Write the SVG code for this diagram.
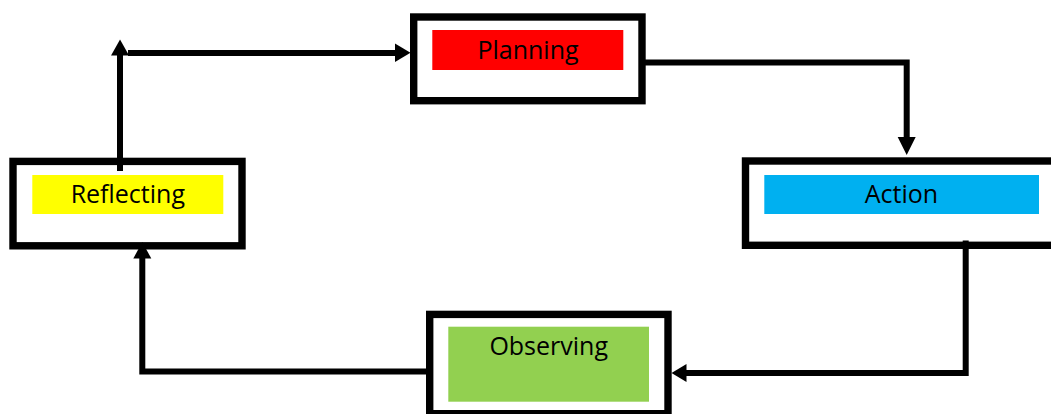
<svg xmlns="http://www.w3.org/2000/svg" width="1051" height="414" viewBox="0 0 1051 414">
  <style>
    .frame { fill: #ffffff; stroke: #000000; stroke-width: 7.4; }
    .label { font-family: "Open Sans", "Liberation Sans", sans-serif; font-size: 25px; fill: #000000; text-anchor: middle; }
    .conn { fill: none; stroke: #000000; stroke-width: 6; stroke-linejoin: miter; }
    .head { fill: #000000; stroke: none; }
  </style>
  <rect width="1051" height="414" fill="#ffffff"/>

  <g id="planning">
    <rect class="frame" x="413.7" y="17" width="228.3" height="83.7"/>
    <rect x="432.3" y="30" width="191" height="40" fill="#FF0000"/>
    <text class="label" x="528" y="59.3">Planning</text>
  </g>

  <g id="action">
    <rect class="frame" x="745.5" y="161" width="330" height="84.3"/>
    <rect x="764.3" y="175" width="274.7" height="39" fill="#00B0F0"/>
    <text class="label" x="901.5" y="203.3">Action</text>
  </g>

  <g id="observing">
    <rect class="frame" x="429.7" y="314.4" width="238.3" height="99.3"/>
    <rect x="448.3" y="326.7" width="200.7" height="75" fill="#92D050"/>
    <text class="label" x="548.7" y="355">Observing</text>
  </g>

  <g id="reflecting">
    <rect class="frame" x="13" y="161.4" width="229" height="84.4"/>
    <rect x="32.3" y="175" width="191" height="39" fill="#FFFF00"/>
    <text class="label" x="127.8" y="203.3">Reflecting</text>
  </g>

  <g id="connectors">
    <path class="conn" d="M120,171 V54"/>
    <polygon class="head" points="111,55.5 129,55.5 120,39.5"/>
    <path class="conn" d="M128,53 H397"/>
    <polygon class="head" points="395,43.5 395,62 410.5,52.7"/>

    <path class="conn" d="M645,62.5 H906.7 V138"/>
    <polygon class="head" points="897.7,137 915.7,137 906.7,155"/>

    <path class="conn" d="M965.7,240.5 V373 H685"/>
    <polygon class="head" points="686.5,364 686.5,382 671.5,373"/>

    <path class="conn" d="M427,371.5 H142.3 V257"/>
    <polygon class="head" points="133.3,258.5 151.3,258.5 142.3,242"/>
  </g>
</svg>
